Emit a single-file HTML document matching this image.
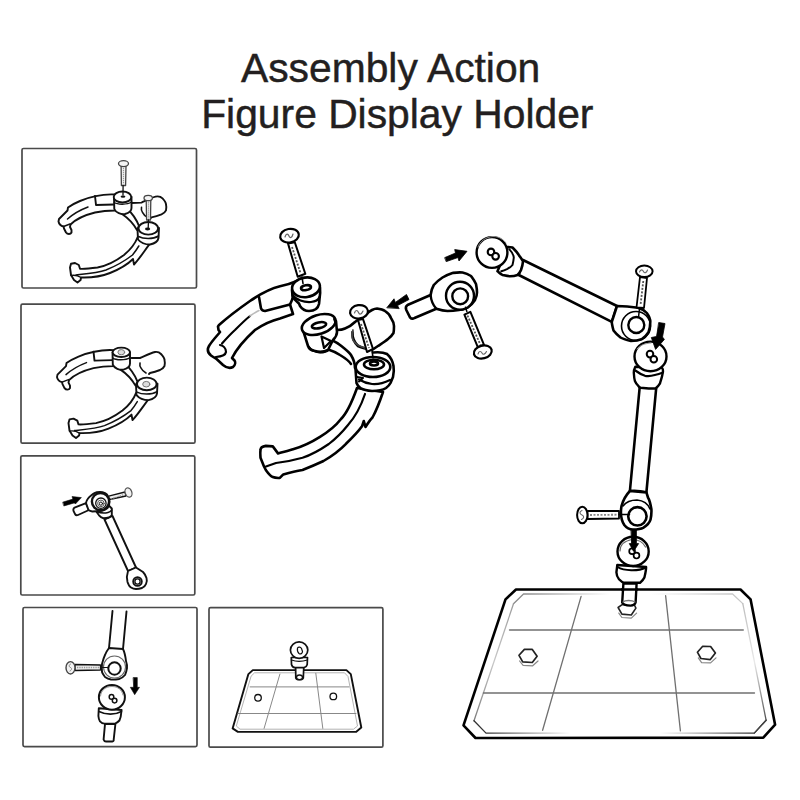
<!DOCTYPE html>
<html><head><meta charset="utf-8">
<style>
html,body{margin:0;padding:0;background:#fff;width:800px;height:800px;overflow:hidden}
.t{position:absolute;font-family:"Liberation Sans",sans-serif;font-size:40.8px;color:#231f20;white-space:nowrap;line-height:1;-webkit-text-stroke:0.45px #231f20}
svg{position:absolute;left:0;top:0}
</style></head><body>
<div class="t" style="left:241px;top:47.7px">Assembly Action</div>
<div class="t" style="left:201.2px;top:93.5px">Figure Display Holder</div>
<svg width="800" height="800" viewBox="0 0 800 800" fill="none" stroke-linecap="round" stroke-linejoin="round">
<g stroke="#4a4a4a" stroke-width="1.7">
<rect x="22" y="148.5" width="174.5" height="139.5" rx="1.5"/>
<rect x="21" y="304.2" width="174" height="139" rx="1.5"/>
<rect x="20.8" y="455.8" width="174" height="139.2" rx="1.5"/>
<rect x="23" y="607.5" width="174" height="139.1" rx="1.5"/>
<rect x="209" y="607.7" width="173.9" height="139.5" rx="1.5"/>
</g>
<!--B1--><g id="b1" stroke="#111" stroke-width="1.9" fill="#fff">
<!-- left arm -->
<path d="M115,194.5 C105,194 92,196 80,201 C74,203.5 70,206 68,207.5 L67.5,210.5 L59,219 L58.5,221.5 C59,224 61,226 63.5,226.5 L64,228.5 L66,232.5 C67.5,234.5 70.5,234.5 71.5,232.5 L71.5,230 L70,227 L70.5,224.5 C75,220 85,215 95,212.5 C102,211 108,210.5 115,210.5 Z"/>
<path d="M95,196 L96,205 L114,204.5" fill="none"/>
<path d="M67.5,219 C72,215 80,210 88,207" fill="none" stroke-width="1.5"/>
<path d="M63.5,226.5 L70,224" fill="none" stroke-width="1.5"/>
<!-- bridge -->
<path d="M125,206 C131,212 136,218 139,226 L137,230 C133,223 128,218 122,214 Z"/>
<!-- tube -->
<path d="M131.5,203 L141.5,202.6 C146,200.5 151,197.8 155.5,196.6 C158.5,196 161,196.8 162.5,198.4 C164.5,200.5 166,202.5 166,204.6 C166.5,206.5 166.5,208.5 166,210.4 C165,212.5 163.5,213.5 161.5,214.4 C158,215.8 154.5,216.8 151.5,217.4 L150.5,218.4"/>
<path d="M141.5,207.4 C141,209.5 141.5,211 142.5,212.4 C143.5,214.5 145,216 147.5,217.4" fill="none" stroke-width="1.6"/>
<!-- washer1 -->
<path d="M114,196.7 L114.3,209 C116,213 121,214.5 125,214 C129,213 131.5,211 131.5,208 L131.5,196.7"/>
<path d="M114.3,202.5 C117,204.5 127,205 131.5,202" fill="none" stroke-width="1.5"/>
<ellipse cx="122.5" cy="197" rx="8.8" ry="5.5"/>
<ellipse cx="123" cy="196.6" rx="2.4" ry="1.2" fill="#111" stroke="none"/>
<!-- lower arm -->
<path d="M137.5,237.5 C135,244 130,250 124,255 C116,261 106,266 97.5,267.5 C90,268.5 84,269 80,268.8 L78.8,265 L75,263 L71,263.8 L70,267.5 L71,275 L74,280 L77.5,282.5 L80.6,280 L81,277.5 C90,277.8 100,277 110,273 C120,269 127,265 133,259 L134,264.5 C140,258 145,250 150,243.7 Z"/>
<path d="M76,275 C85,274 97.5,273 106,270 C116,266 126,260 132.5,255 C135,252 137,249 138.8,246" fill="none" stroke-width="1.5"/>
<path d="M71,275.5 C74,275 77,275 81,277.5" fill="none" stroke-width="1.4"/>
<!-- washer2 -->
<path d="M137.5,229.5 L138,239.5 C141,243 146,244.5 150,244.5 C155,243.5 158,241 158.5,238 L159,228" />
<path d="M138.5,236.5 C143,239 153,239.5 158.5,236" fill="none" stroke-width="1.5"/>
<ellipse cx="148.3" cy="228.3" rx="9.8" ry="6.3"/>
<ellipse cx="147.6" cy="229" rx="2.6" ry="1.4" fill="#111" stroke="none"/>
<!-- screws -->
<g stroke-width="1.3" fill="#f4f4f4" stroke="#444">
<path d="M121.1,166 L121.4,185.5 L125.6,185.5 L126,166 Z"/>
<path d="M123.5,168 L123.5,184" fill="none" stroke="#999" stroke-width="1.2" stroke-dasharray="1.2 0.8" stroke-linecap="butt"/>
<ellipse cx="123.5" cy="163.6" rx="5" ry="3"/>
<path d="M123.1,185.5 L123,195" fill="none" stroke="#111"/>
<path d="M146.2,199.5 L146.6,220 L150.5,220 L150.8,199.5 Z"/>
<path d="M148.5,201.5 L148.6,218.5" fill="none" stroke="#999" stroke-width="1.3" stroke-dasharray="1.2 0.8" stroke-linecap="butt"/>
<ellipse cx="148.2" cy="198" rx="4.2" ry="2.7"/>
<path d="M148.5,220 L148.2,228" fill="none" stroke="#111"/>
</g>
</g>
<!--/B1-->
<!--M1--><g id="m1" stroke="#000" stroke-width="2.6" fill="#fff">
<!-- left clamp half arm -->
<path d="M297,281 C290,284 284,285.5 280,286.3 C271,288.5 261,293.5 250,301 C240,308 228,317 219,325 L218,326.5 L218.5,330 L220,332 C216,337 212,341 209,346 C207,349.5 208,353 211,355.5 C213,357 215,358 216,358.5 L223,365 C226,367.5 230,368.5 233,367 C235.5,365 235.5,362 234.5,360.5 L232,358 C236,350 244,340 255,330 C263,324.5 272,320.5 280,318.5 L293,314 L290,304.5 L292,300 Z"/>
<path d="M259,297 L261,308.5 C262,310.5 263.5,311 265,311 L290,304.5" fill="none"/>
<path d="M222,343.5 C226,339 230,334.5 235,330 C240,325 245,320 250,316" fill="none" stroke-width="2.2"/>
<path d="M250,316 C253,314 256,312 259,310.5" fill="none" stroke="#bbb" stroke-width="1.6"/>
<path d="M220,345 C223,345.5 226,348 226,352 C225.5,355 222,356.5 216,357" fill="none" stroke-width="2.2"/>
<!-- left washer -->
<path d="M292,290 L292.5,296 C294,300 297,302 299,303.5 L300,306 C302,309 305,311 309,311 C314,311 318,308.5 319,304 L319.5,299 C320,296 320.5,292 320,288"/>
<path d="M292.5,295 C296,300 304,302.5 311,302 C316,301.5 318.5,299.5 319.5,297" fill="none" stroke-width="2.2"/>
<ellipse cx="306" cy="287.3" rx="14" ry="9.8" transform="rotate(-8 306 287.3)"/>
<ellipse cx="306" cy="287.7" rx="5" ry="2.4" transform="rotate(-10 306 287.7)"/>
<!-- left screw -->
<path d="M288,243.4 L297.7,276.8 L305.3,273.8 L294.8,242.3 Z" stroke-width="2"/>
<path d="M292,247 L300.5,273" fill="none" stroke="#555" stroke-width="1.8" stroke-dasharray="2 1.5" stroke-linecap="butt"/>
<ellipse cx="289.5" cy="235.7" rx="9.4" ry="6.8" transform="rotate(-10 289.5 235.7)" stroke-width="2.2"/>
<path d="M285,237 C286,233 288,233.5 289,236 C290,238.5 292,238 293,234" fill="none" stroke="#666" stroke-width="1.2"/>
<path d="M302,277 L303,283.5" fill="none" stroke-width="1.6"/>

<!-- right clamp half: lower arm -->
<path d="M357,388 C352,402 346,414 341,419 C334,428 328,432 320,436.8 C311,442.5 302,446.5 293.8,449 C287,451 282,452.5 278,453.4 L272.8,446.4 L265.8,445.9 C262,446.5 260.5,448 260.5,450 C260,453 260.5,456 260.5,457.8 L264,466.5 L265.8,470 C268,473 270,476 272.8,477 C275,478 278,478 279.8,477.9 L283.3,474.4 C290,472.5 296,471 302.5,470 C310,467 316,464.5 323.5,461 C332,456 340,450 346,443.8 C352,438 358,432 362,426.3 L363.8,421 L365.5,427 C368,423 370,420 372.5,417.5 C376,411 379,404 383,392 Z"/>
<path d="M365,394 C361,406 355,417 348,425 C342,432.5 336,438.5 328.8,444 C320,450 311,455 302.5,457.8 C293,460.5 285,462 276,463 L266,466.5" fill="none" stroke-width="2.2"/>
<!-- connecting strip from top washer down -->
<path d="M322,336 C330,339 335,341 340,345 C345,349 349,352 351,355 C354,360 355,364 355,368" fill="none"/>
<path d="M327,349 C333,351 337,353 340,355 C345,358 349,361 351,364" fill="none"/>
<!-- tube -->
<path d="M337,330 C340,330 343,329.5 345,328.5 C350,326.5 353,324 355,322 C359,319 362,316.5 365,315 C368,312.5 370,311 372,310 C374,309 376,308.5 377,308.5 C381,309 383,309.5 385,311 C388,313 390,315 391,318 C393,321 394,324 394,326 C394,329 394,331 393.5,333 C392,335.5 390,337.5 388,339 C385,341.5 381,344 378,346 L372,350 C367,349 362,348 358,346 C354,342 352,338 352.5,332" />
<path d="M353,330 C351.5,335 352,340 355,342.5 C357,345 360,346.5 365,348" fill="none" stroke="#444" stroke-width="1.8"/>
<!-- top right washer -->
<path d="M303,330 L308,346 C309,349 311,350.5 315,351 C318,352 323,352.5 328,350 L333,340 C336,337 337,334 337,332 L336,321"/>
<path d="M309,347 C311,350 316,352.5 320,352.5 C324,352.5 327,351.5 328.5,350" fill="none" stroke-width="2.2"/>
<ellipse cx="318.7" cy="324.5" rx="17.5" ry="9.5" transform="rotate(-18 318.7 324.5)"/>
<ellipse cx="319" cy="325.3" rx="7.3" ry="2.9" transform="rotate(-12 319 325.3)"/>
<path d="M321.5,336.5 L324,348 L331,341 Z" stroke-width="2.2"/>
<path d="M334,319 L335.5,323" fill="none" stroke-width="2"/>
<!-- big washer -->
<path d="M355.5,369 L356.5,383 C357.5,386 359,387 361,388.5 C363,389.5 367,390.5 372,391 C378,391 383,390 386,388 C388,386.5 389.5,385 390.5,383 L393,377 C394,373 394,369 393.5,366 C392.5,360 390.5,357 387,354 C383,352 378,352 373,352.5"/>
<path d="M359,379.5 C363,382 368,383.5 372,384 C378,384.5 384,383 390,380" fill="none" stroke-width="2.2"/>
<path d="M357,377 L363,378 L359,381.5" fill="none" stroke-width="2"/>
<ellipse cx="373" cy="367" rx="17.3" ry="10"/>
<ellipse cx="374" cy="364.5" rx="10" ry="4.8"/>
<ellipse cx="374" cy="363.5" rx="4" ry="2"/>
<!-- right screw -->
<path d="M358,320 L367,352 L373,349 L363,319 Z" stroke-width="2"/>
<path d="M361,324 L369,348" fill="none" stroke="#555" stroke-width="1.8" stroke-dasharray="2 1.5" stroke-linecap="butt"/>
<ellipse cx="359" cy="311.8" rx="9" ry="6.7" transform="rotate(-8 359 311.8)" stroke-width="2.2"/>
<path d="M354.5,313 C355.5,309.5 357.5,310 358.5,312.5 C359.5,315 361.5,314.5 363,311" fill="none" stroke="#666" stroke-width="1.2"/>
<path d="M372,350 L373,358" fill="none" stroke-width="1.6"/>
<!-- arrow -->
<path d="M387,307.5 L394,298.8 L395.3,302.4 L406.5,294.5 L409,299.5 L397.5,305.6 L399,308.3 Z" fill="#000" stroke-width="0.8"/>
</g>
<!--/M1-->
<!--M2--><g id="m2" stroke="#000" stroke-width="2.6" fill="#fff">
<!-- base plate -->
<path d="M516,589.5 L740.5,589.5 L750.6,599.4 L775.1,724.7 L763.3,737.6 L475.5,738 L463.5,725.3 L505.5,599.4 Z"/>
<defs>
<linearGradient id="gT" gradientUnits="userSpaceOnUse" x1="523" y1="0" x2="610" y2="0"><stop offset="0" stop-color="#8a8a8a"/><stop offset="1" stop-color="#fff"/></linearGradient>
<linearGradient id="gT2" gradientUnits="userSpaceOnUse" x1="650" y1="0" x2="733" y2="0"><stop offset="0" stop-color="#fff"/><stop offset="1" stop-color="#c8c8c8"/></linearGradient>
<linearGradient id="gB" gradientUnits="userSpaceOnUse" x1="486" y1="0" x2="570" y2="0"><stop offset="0" stop-color="#333"/><stop offset="1" stop-color="#fff"/></linearGradient>
<linearGradient id="gB2" gradientUnits="userSpaceOnUse" x1="660" y1="0" x2="754" y2="0"><stop offset="0" stop-color="#fff"/><stop offset="1" stop-color="#333"/></linearGradient>
<linearGradient id="gR" gradientUnits="userSpaceOnUse" x1="0" y1="600" x2="0" y2="725"><stop offset="0" stop-color="#bbb"/><stop offset="0.5" stop-color="#e8e8e8"/><stop offset="1" stop-color="#444"/></linearGradient>
<linearGradient id="gL" gradientUnits="userSpaceOnUse" x1="0" y1="600" x2="0" y2="725"><stop offset="0" stop-color="#999"/><stop offset="0.5" stop-color="#c8c8c8"/><stop offset="1" stop-color="#777"/></linearGradient>
</defs>
<g fill="none" stroke-width="1.3">
<path d="M513.5,603.8 L523.5,594 L612,594" stroke="url(#gT)"/>
<path d="M650,594 L732.6,594 L742.8,603.6" stroke="url(#gT2)"/>
<path d="M513.5,603.8 L474,720.8" stroke="url(#gL)"/>
<path d="M474,720.8 L486,733.1 L572,733.1" stroke="url(#gB)"/>
<path d="M660,733.1 L754.3,733.1 L766.1,720.2" stroke="url(#gB2)"/>
<path d="M742.8,603.6 L766.1,720.2" stroke="url(#gR)"/>
<path d="M754.3,733.1 L766.1,720.2" stroke="#444"/>
</g>
<g stroke="#707070" stroke-width="1.3" fill="none">
<path d="M509.5,630 L743.3,630"/>
<path d="M483.4,693 L754.5,693"/>
<path d="M581.1,596.4 L542.6,730.3"/>
<path d="M665.6,595.6 L680.4,730.9"/>
</g>
<!-- hex nuts -->
<g stroke-width="1.5">
<path d="M519.6,661 L523.1,665.4 L532.7,665.8 L538,661" fill="none" stroke="#888" stroke-width="1.2"/>
<path d="M524.4,649.4 L532.3,649.4 L537.1,656.2 L532.3,662.5 L522.7,661.9 L519,655.3 Z" stroke="#222" stroke-width="1.7"/>
<path d="M698.3,657.9 L701.6,662.7 L710.6,662.9 L716,657.9" fill="none" stroke="#888" stroke-width="1.2"/>
<path d="M702.7,646.3 L710.6,646.5 L715.4,653.1 L710.3,659.6 L700.9,658.5 L697.4,652.2 Z" stroke="#222" stroke-width="1.7"/>
<path d="M618.8,613.1 L621.9,617.5 L631.3,618.1 L636.6,613.1" fill="none" stroke="#888" stroke-width="1.2"/>
<path d="M622.5,604.4 L634.4,605 L635.9,608.1 L631.3,615 L621.9,614.1 L618.1,607.5 Z" stroke="#222" stroke-width="1.6"/>
</g>
<!-- stem -->
<path d="M623.4,583.5 L622.2,602.5 C623,604.5 626,605.5 630.6,605.6 C633,605.5 635,604.5 635.6,602.5 L636.6,583.5 Z" stroke-width="2.4"/>
<path d="M622,589.5 L637,589.5" stroke-width="2.6"/>
<path d="M623,602 C625,600 632,600 635,602" fill="none" stroke="#777" stroke-width="1.3"/>
<!-- collar 3 -->
<path d="M617.3,565 L616.4,572.3 C616.5,575 617.5,577.5 619,579.3 C621,581.5 623,582.5 624.3,582.8 L640,582.8 C642,581 643.5,579.5 644.4,577.5 C645.5,573 646.2,570 646.1,567 Z" stroke-width="2.4"/>
<path d="M617.5,567 C624,571 638,571.5 646,567.5" fill="none" stroke-width="2"/>
<!-- ball 3 -->
<ellipse cx="633.1" cy="551.4" rx="15.6" ry="14.6" stroke-width="2.4"/>
<path d="M620,551 C620,545 624,541 632,539.5 C638,539.5 643,542 645.5,547" fill="none" stroke="#666" stroke-width="1.2"/>
<circle cx="632.1" cy="551.3" r="2.9" stroke-width="1.7"/>
<circle cx="636.5" cy="555.6" r="2.9" stroke-width="1.7"/>
<!-- arrow down between -->
<path d="M631.3,529.5 L636.4,529.5 L636.4,543.6 L638.6,543.6 L633.6,551.4 L629.3,543.6 L631.3,543.6 Z" fill="#000" stroke-width="0.8"/>
<!-- vertical rod -->
<path d="M639.8,386 L629.9,491 C636,490.5 641,491 646.4,492.4 L656.3,387 Z"/>
<!-- lower eye -->
<path d="M629.9,491 C627,494 623.5,499 621.5,506 C620.5,512 621,520 624.3,525 C627,528.5 630,529.5 633,529.5 C637,529.5 641,529 643.5,527.6 C647,525.5 649.5,523 650.5,519.7 C651.5,515 651.5,511 651.4,509.3 C650.5,504 649.5,500 648,497.5 L646.4,492.4 Z"/>
<path d="M623,506 C626,502 631,500 637,500 C643,500.5 648,504 650,509" fill="none" stroke-width="1.6"/>
<circle cx="637.4" cy="516.3" r="9.2"/>
<!-- horizontal screw lower -->
<path d="M587.5,511 L619,511 L619,518.5 L587.5,519 Z" stroke-width="1.8"/>
<path d="M590,515 L617,514.7" fill="none" stroke="#888" stroke-width="1.8" stroke-dasharray="2 1.5" stroke-linecap="butt"/>
<ellipse cx="582.3" cy="515" rx="5.2" ry="8.3" stroke-width="2"/>
<path d="M582,510.5 C579,511.5 579.5,514 582,515 C584.5,516 584,518.5 581.5,519.5" fill="none" stroke="#666" stroke-width="1.1"/>
<path d="M619,514.6 L629.5,514.6" fill="none" stroke-width="1.5"/>
<!-- collar 2 -->
<path d="M635.3,366.8 C634.2,369 633.7,371 633.8,372.8 C634,376 634.3,379 634.9,381 C636,383.5 637.3,385 638.3,385.9 C639,386.8 640,387.5 640.5,387.8 L648.8,388.5 L655.5,388.5 C657.5,387 659,385 660,383.3 C661,380 662,377 662.3,375 C662.8,373 663,372 663,371.3 C663,369.5 662.5,368.5 662.3,368.3 L660.8,367.5 Z" stroke-width="2.4"/>
<path d="M635.3,370.5 C638,372.5 641,374.5 645,375.8 C648,376.3 651.5,376 654.8,375 C658,374.3 660.5,373.5 662.3,372.8" fill="none" stroke-width="2.2"/>
<!-- ball 2 -->
<ellipse cx="650.5" cy="356.4" rx="16" ry="14.8" stroke-width="2.4"/>
<path d="M637,349 C640,345 645,343.5 651,343" fill="none" stroke="#999" stroke-width="1"/>
<circle cx="650" cy="354.1" r="3.3" stroke-width="2"/>
<circle cx="653.8" cy="359.2" r="3.3" stroke-width="2"/>
<!-- arrow down 2 -->
<path d="M659,322.6 L665,323.5 L662.5,337 L664.4,339.4 L655.6,349.4 L651.3,337.5 L656.3,336.5 Z" fill="#000" stroke-width="0.8"/>
<!-- diagonal arm -->
<path d="M523,260 L617,306 L611.8,321.8 L518.8,275 Z"/>
<!-- upper eye at end of arm -->
<path d="M617,306 C621,306 630,306.5 638,307.8 C642,309 645,311 646.8,313 C649,316 650.3,319 650.3,321.8 C650.3,326 649.5,329.5 648.5,332.3 C646.5,335.5 644,338 641.5,339.3 C638,340.8 634,341 631,341 C627,340 623,339 620.5,337.5 C617.5,335 615,332.5 613.5,330.5 C612.5,327 611.8,324 611.8,321.8 Z"/>
<circle cx="636" cy="326" r="14.5" fill="none" stroke-width="1.6"/>
<circle cx="636.3" cy="325" r="8" stroke-width="2.4"/>
<!-- screw top right -->
<path d="M640,277 L636.5,307.5 L644,308 L647,278 Z" stroke-width="1.8"/>
<path d="M643.3,281 L640.5,305" fill="none" stroke="#555" stroke-width="1.8" stroke-dasharray="2 1.5" stroke-linecap="butt"/>
<ellipse cx="644.3" cy="271.3" rx="8.3" ry="5.8" stroke-width="2"/>
<path d="M639.5,272 C640.5,269 642.5,269.5 643.5,271.5 C644.5,273.5 646.5,273 647.5,270" fill="none" stroke="#666" stroke-width="1.1"/>
<path d="M639.5,309 L638.5,317" fill="none" stroke-width="1.5"/>
<!-- collar 1 -->
<path d="M507.5,247 C509,247 511,247.2 512.5,247.5 C515,250 517,252 518.8,255 C520.5,257.5 522,259.5 523,261.3 C522.8,264 522,267 521,270 C520,272.5 518.5,274 517.5,275 C515,276 512,276.3 510,276.3 C507,276 505,275.5 502.5,275 C500,273.5 498.5,272 497.5,271.3 Z"/>
<path d="M509.4,249.4 C512,252 513.5,254.5 513.8,257.5 C513.5,261 513,263 512.5,265 C511,267 509,268 507.5,268.8 C505,270 503,270.8 501.3,271.3" fill="none" stroke-width="2"/>
<!-- ball 1 -->
<circle cx="492" cy="252.5" r="15.4" stroke-width="2.4"/>
<path d="M478,247 C480,241 486,237 493,236.5 C499,236.5 503,239 506,243" fill="none" stroke="#888" stroke-width="1"/>
<circle cx="491" cy="251.9" r="3.3" stroke-width="2.1"/>
<circle cx="495.6" cy="256.3" r="3.3" stroke-width="2.1"/>
<!-- arrow up-right -->
<path d="M445,257.5 L455.5,253 L454.7,249.6 L467,251.3 L459,261 L458,257.5 L446.5,261.5 Z" fill="#000" stroke-width="0.8"/>
<!-- socket piece -->
<path d="M407.5,305 C406,306 405.5,308 406.3,310 L410,317.3 C411,318.5 413,319 414.5,318 L436.3,308.8 C440,310 444,311 447.5,311 C452,311 456,310.5 459,310 C463,309.5 465,308.5 467.5,307.5 C471,305 473.5,302.5 475,300 C476.5,297 477,294 477,292.5 C477,289 476.5,286.5 476,284 C474,280 472,277.5 471,276 C468,274 465,273 462.5,272.5 C459,272 456,272.5 452.5,273 C448,274.5 445,276 442.5,277.5 C438,280.5 435.5,283 433.8,285 C432,288 431,292 430.6,295 Z"/>
<path d="M430.6,295 C431,300 433,305 436.3,308.8" fill="none" stroke-width="2.4"/>
<circle cx="460" cy="295.8" r="14" stroke-width="2.4"/>
<circle cx="460.2" cy="296.3" r="7.9" stroke-width="2.4"/>
<!-- screw below socket -->
<path d="M465.6,307.3 L466.8,311.4" fill="none" stroke-width="1.6"/>
<path d="M464.4,314.6 L470.4,311.8 L483.9,344.7 L477.8,347.2 Z" stroke-width="2"/>
<path d="M467.5,315.5 L480.5,345" fill="none" stroke="#555" stroke-width="1.8" stroke-dasharray="2 1.5" stroke-linecap="butt"/>
<ellipse cx="482.8" cy="352" rx="9.1" ry="6.4" transform="rotate(-15 482.8 352)" stroke-width="2.2"/>
<path d="M478,354 C479,350.5 481,351 482,353 C483,355 485,354.5 486.5,351.5" fill="none" stroke="#666" stroke-width="1.1"/>
</g>
<!--/M2-->
<!--B2--><g id="b2" transform="translate(-1.5 155.6)" stroke="#111" stroke-width="1.9" fill="#fff">
<!-- left arm -->
<path d="M115,194.5 C105,194 92,196 80,201 C74,203.5 70,206 68,207.5 L67.5,210.5 L59,219 L58.5,221.5 C59,224 61,226 63.5,226.5 L64,228.5 L66,232.5 C67.5,234.5 70.5,234.5 71.5,232.5 L71.5,230 L70,227 L70.5,224.5 C75,220 85,215 95,212.5 C102,211 108,210.5 115,210.5 Z"/>
<path d="M95,196 L96,205 L114,204.5" fill="none"/>
<path d="M67.5,219 C72,215 80,210 88,207" fill="none" stroke-width="1.5"/>
<path d="M63.5,226.5 L70,224" fill="none" stroke-width="1.5"/>
<!-- bridge -->
<path d="M125,206 C131,212 136,218 139,226 L137,230 C133,223 128,218 122,214 Z"/>
<!-- tube -->
<path d="M133,202.4 L141.5,202.4 C146,200.5 152,197.5 156.5,196.4 C159,196 161,196.8 162.5,198.4 C164.5,200.5 166,202.5 166,204.4 C166.5,206.5 166.5,208.5 166,210.4 C165,212.5 163.5,213.5 161.5,214.4 C158,215.8 154.5,216.8 151.5,217.4 L150.5,218.4"/>
<path d="M141.5,207.4 C141,209.5 141.5,211 142.5,212.4 C143.5,214.5 145,216 147.5,217.4" fill="none" stroke-width="1.6"/>
<!-- washer1 -->
<path d="M114,196.7 L114.3,209 C116,213 121,214.5 125,214 C129,213 131.5,211 131.5,208 L131.5,196.7"/>
<path d="M114.3,202.5 C117,204.5 127,205 131.5,202" fill="none" stroke-width="1.5"/>
<ellipse cx="122.8" cy="196.7" rx="8.7" ry="4.7"/>
<ellipse cx="123" cy="196.6" rx="2.4" ry="1.2" fill="#111" stroke="none"/>
<!-- lower arm -->
<path d="M137.5,237.5 C135,244 130,250 124,255 C116,261 106,266 97.5,267.5 C90,268.5 84,269 80,268.8 L78.8,265 L75,263 L71,263.8 L70,267.5 L71,275 L74,280 L77.5,282.5 L80.6,280 L81,277.5 C90,277.8 100,277 110,273 C120,269 127,265 133,259 L134,264.5 C140,258 145,250 150,243.7 Z"/>
<path d="M76,275 C85,274 97.5,273 106,270 C116,266 126,260 132.5,255 C135,252 137,249 138.8,246" fill="none" stroke-width="1.5"/>
<path d="M71,275.5 C74,275 77,275 81,277.5" fill="none" stroke-width="1.4"/>
<!-- washer2 -->
<path d="M137.5,229.5 L138,239.5 C141,243 146,244.5 150,244.5 C155,243.5 158,241 158.5,238 L159,228" />
<path d="M138.5,236.5 C143,239 153,239.5 158.5,236" fill="none" stroke-width="1.5"/>
<ellipse cx="148.3" cy="228.3" rx="9.8" ry="6.3"/>
<ellipse cx="147.6" cy="229" rx="2.6" ry="1.4" fill="#111" stroke="none"/>
<ellipse cx="122.8" cy="196.6" rx="3.4" ry="2.6" fill="#ddd" stroke="#777" stroke-width="1"/>
<ellipse cx="147.8" cy="228.6" rx="3.6" ry="2.8" fill="#ddd" stroke="#777" stroke-width="1"/>
</g>
<!--/B2-->
<!--B345--><g id="b3" stroke="#111" stroke-width="1.9" fill="#fff">
<!-- rod -->
<path d="M104.5,519.5 L128,571 L136,567.5 L112.5,516 Z"/>
<!-- eye -->
<path d="M128,571 C127,574 126.5,578 127.5,582 C128.5,585 130,587 131,587.5 C133,588.8 135,589 136,589 C138.5,589 140.5,588.5 142,588 C144,587 145.5,585.5 146,584 C147,581.5 147,579.5 146.5,578 C145.5,575 144,573 143,572 L136,567.5 Z"/>
<circle cx="137.5" cy="581.5" r="4.3"/>
<circle cx="137.5" cy="581.5" r="2.6" fill="none" stroke-width="1.3"/>
<!-- collar -->
<path d="M95.5,510.5 L99,515.3 C100.5,517 102,518 103.5,518.3 C105.5,518.3 107.5,518 108.8,517.5 C110.5,516.5 111.5,515.5 111.8,515.3 L111.8,508.5 L108.8,505.5 Z"/>
<path d="M96.5,511.5 C100,513 104,513.5 108,512.5 C110,512 111,511 111.8,510" fill="none" stroke-width="1.5"/>
<!-- socket stem -->
<path d="M74.5,507.6 C73.3,508.3 73.2,509.8 73.6,511.2 L75.2,514.4 C75.8,515.3 77,515.5 78,515 L89,510 L86,503.2 Z"/>
<!-- socket head -->
<path d="M86,503.2 C86.3,501.5 86.8,500.3 87.5,499.3 C88.5,497.8 89.5,496.8 90.8,495.8 C92,494.8 93.2,493.8 94.5,493.1 C96,492.3 98,492 99.8,492 C101.8,492 103.5,492.4 105,493.1 C106.5,494 107.5,495 108,496.1 C109,498 109.5,500 109.5,502 C109.5,504.5 108.8,506.8 107.5,508.2 C106,509.7 104,510.5 102,510.8 C99,511.3 96,511.2 92.3,511.5 C90.8,511.3 89.5,510.8 88.5,510 Z"/>
<circle cx="100.5" cy="501.6" r="8.6" stroke-width="2.4"/>
<circle cx="100.9" cy="503.2" r="5.2" stroke-width="1.3"/>
<circle cx="100.9" cy="503.4" r="3.3" fill="none" stroke="#555" stroke-width="1"/>
<circle cx="100.9" cy="503.6" r="1.6" stroke-width="1"/>
<!-- screw -->
<path d="M108.7,496.1 L125,492 L126,496 L109.5,499.5 Z" stroke-width="1.3" fill="#eee"/>
<path d="M111,499 L124,494.5" fill="none" stroke="#999" stroke-width="1.3" stroke-dasharray="1.3 1" stroke-linecap="butt"/>
<ellipse cx="128.5" cy="492.5" rx="3.3" ry="4.8" transform="rotate(-20 128.5 492.5)" stroke-width="1.3" fill="#f2f2f2" stroke="#555"/>
<!-- arrow -->
<path d="M63,502.1 L72.8,499.1 L72,496.5 L81.4,497.6 L75.4,504 L74.3,502.9 L64.1,505.9 Z" fill="#000" stroke-width="0.6"/>
</g>
<g id="b4" stroke="#111" stroke-width="1.9" fill="#fff">
<!-- rod -->
<path d="M112.5,611 L109,648 M126.5,611.5 L123,649" fill="none"/>
<!-- eye -->
<path d="M109,648 L123,649 C124.5,652 125.5,657 126,661 C127,664 127.3,666 127,668 C126.5,671 126,673 125,675 C123,677.5 121,678.5 119,679 C116,679.6 113,679.8 111,679.5 C108.5,679 106.5,678 105,677 C103.5,675 102.3,673.5 102,672 C101.8,669 101.8,666.5 102,664 C103,660 104,657 105,655 C106,652 107.5,650 109,648 Z"/>
<circle cx="114.5" cy="667" r="11" fill="none" stroke="#666" stroke-width="1.1"/>
<circle cx="114.5" cy="668.5" r="6.2" stroke-width="2"/>
<!-- screw -->
<path d="M75,664.5 L100.5,665 L100.5,670 L75,670.5 Z" stroke-width="1.3" fill="#eee"/>
<path d="M77,667.5 L99,667.5" fill="none" stroke="#999" stroke-width="1.5" stroke-dasharray="1.3 1" stroke-linecap="butt"/>
<ellipse cx="70.5" cy="667.8" rx="4.5" ry="6.2" stroke-width="1.4" fill="#f2f2f2" stroke="#444"/>
<path d="M70.5,664 C68.5,665 69,667 70.5,667.5 C72,668 72,670 70,671" fill="none" stroke="#777" stroke-width="0.9"/>
<path d="M100.5,667.5 L108,667.5" fill="none" stroke-width="1.2"/>
<!-- arrow -->
<path d="M133.4,677.6 L137.3,677.6 L137.3,687.3 L139.5,687.3 L134.7,694.7 L130.3,687.3 L133.4,687.3 Z" fill="#000" stroke-width="0.6"/>
<!-- stem -->
<path d="M105,724 L103.6,739.5 C104,741 105,741.5 106,741.5 L112.4,741.5 C113.5,741.5 113.8,740.5 113.7,739.5 L115.4,724 Z"/>
<!-- collar -->
<path d="M98.8,708.3 L98.4,716 C98.6,718.5 99,720 100,721.4 C101.5,723 103,723.6 104.5,723.6 L115,723.6 C117,723 118.5,721.5 119.4,720.5 C120.5,718 121,716 121,714.4 L121.6,710 Z"/>
<path d="M99,711.5 C106,715 115,715 121.4,711.5" fill="none" stroke-width="1.6"/>
<!-- ball -->
<ellipse cx="111.9" cy="697.3" rx="13" ry="12.4" stroke-width="2"/>
<path d="M100.5,696 C101,690 106,686.5 112,686.5 C118,686.5 122,690 123,695" fill="none" stroke="#888" stroke-width="0.9"/>
<circle cx="111.5" cy="696.9" r="2.3" stroke-width="1.5"/>
<circle cx="114.6" cy="700.6" r="2.3" stroke-width="1.5"/>
</g>
<g id="b5" stroke="#111" stroke-width="1.9" fill="#fff">
<path d="M252.8,670.1 L346.4,670.1 L350.8,674.1 L361.3,727.5 L356,731.9 L237.9,731.9 L232.6,728.4 L248.4,674.1 Z"/>
<path d="M255,672.8 L344.5,672.8 L348,676.5 L357.5,726 L353.5,729.2 L240,729.2 L236.3,726 L251,676.5 Z" fill="none" stroke="#aaa" stroke-width="0.9"/>
<g stroke="#888" stroke-width="1" fill="none">
<path d="M250.1,686.9 L349,686.9"/>
<path d="M237.9,713.5 L356,713.5"/>
<path d="M279.9,674.1 L264.1,728.4"/>
<path d="M315.8,673.3 L322.8,728.4"/>
</g>
<circle cx="258" cy="697.8" r="3.3" stroke-width="1.3"/>
<circle cx="333.3" cy="696.4" r="3.3" stroke-width="1.3"/>
<!-- stem -->
<path d="M295.6,666 L295.8,678 C296.5,680.3 302.5,680.3 303.3,678 L303.8,666 Z" stroke-width="1.7"/>
<ellipse cx="299.5" cy="677.3" rx="3" ry="2.3" stroke-width="1.3"/>
<!-- collar -->
<path d="M291.3,657.5 L291.5,664.5 C292,666.5 293.5,667.5 295,667.6 L304,667.6 C305.5,667.3 306.8,666.3 307.2,664.5 L307.5,657.5 Z" stroke-width="1.7"/>
<path d="M291.4,660 C296,661.8 302,661.8 307.4,660" fill="none" stroke-width="1.3"/>
<!-- ball -->
<ellipse cx="299.1" cy="650.1" rx="8.7" ry="8.2" stroke-width="1.7"/>
<path d="M297.5,648 C298.5,646.5 300.5,646.8 301.5,648.5 L302.5,651.5 C302.5,653.5 300.5,654.5 299,653.5 C298,652.5 297,650.5 297.5,648 Z" stroke-width="1.2"/>
</g>
<!--/B345-->
<!--DRAW-->
</svg>
</body></html>
